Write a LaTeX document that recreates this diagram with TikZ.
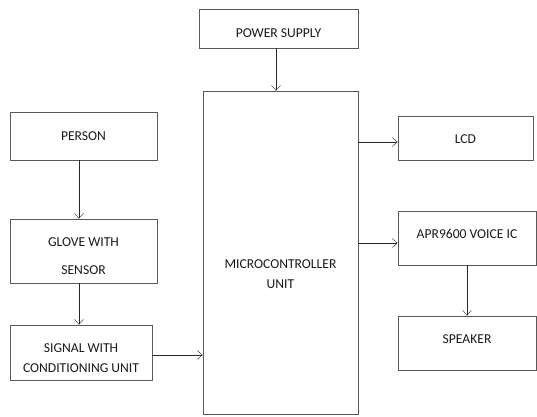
\documentclass[tikz,border=0pt]{standalone}
\usepackage{fontspec}
\setmainfont{Carlito}
\usetikzlibrary{arrows.meta, positioning}

% text moved inside a box without changing the box
\newcommand{\movetext}[2]{\raisebox{#1}[0pt][0pt]{\begin{tabular}{@{}c@{}}#2\end{tabular}}}

\begin{document}
\begin{tikzpicture}[x=1pt, y=-1pt, auto,
    block/.style={rectangle, draw=black!65, thick, align=center, inner sep=0pt,
        font=\fontsize{13.6}{20}\selectfont, text=black!90},
    link/.style={-{Straight Barb[length=5pt, width=9pt]}, black!85, thin}]

    \useasboundingbox (0,0) rectangle (537,416);

    \node[block, minimum width=159pt, minimum height=39pt] (power) at (278.5,28.5) {\movetext{-9pt}{POWER SUPPLY}};
    \node[block, minimum width=155pt, minimum height=323pt] (mcu) at (280.5,252.5) {\movetext{-26pt}{MICROCONTROLLER\\UNIT}};
    \node[block, minimum width=147pt, minimum height=48pt] (person) at (83.5,136) {\movetext{-4pt}{PERSON}};
    \node[block, minimum width=147pt, minimum height=64pt] (glove) at (83.5,251) {\movetext{-9pt}{GLOVE WITH\\[8pt]SENSOR}};
    \node[block, minimum width=142pt, minimum height=55pt] (signal) at (81,352.5) {\movetext{-9.5pt}{SIGNAL WITH\\CONDITIONING UNIT}};
    \node[block, minimum width=135pt, minimum height=44pt] (lcd) at (465.5,138) {\movetext{-5pt}{LCD}};
    \node[block, minimum width=138pt, minimum height=54pt] (apr) at (467,238) {\movetext{0pt}{APR9600 VOICE IC}};
    \node[block, minimum width=138pt, minimum height=54pt] (speaker) at (467,343) {\movetext{0pt}{SPEAKER}};

    \draw[link] ([xshift=-2.5pt]power.south) -- ([xshift=-2.5pt]power.south |- mcu.north);
    \draw[link] ([xshift=-4.5pt]person.south) -- ([xshift=-4.5pt]person.south |- glove.north);
    \draw[link] ([xshift=-4.5pt]glove.south) -- ([xshift=-2pt]signal.north);
    \draw[link] ([yshift=-2.5pt]signal.east) -- ([yshift=-2.5pt]signal.east -| mcu.west);
    \draw[link] ([yshift=-4pt]lcd.west -| mcu.east) -- ([yshift=-4pt]lcd.west);
    \draw[link] ([yshift=-5pt]apr.west -| mcu.east) -- ([yshift=-5pt]apr.west);
    \draw[link] (apr.south) -- (speaker.north);
\end{tikzpicture}
\end{document}
